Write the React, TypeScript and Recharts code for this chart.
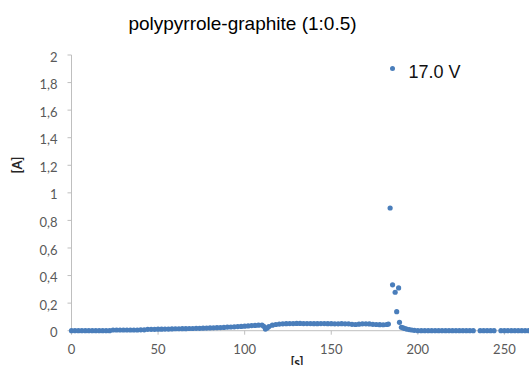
import { ScatterChart, Scatter, XAxis, YAxis, Legend } from "recharts";

// [s, A] readings, 17.0 V run
const chargingPhase: [number, number][] = [
  [0, 0], [2, 0], [4, 0], [6, 0], [8, 0], [10, 0], [12, 0], [14, 0], [16, 0], [18, 0], [20, 0], [22, 0],
  [24, 0.005], [26, 0.005], [28, 0.005], [30, 0.005], [32, 0.005], [34, 0.005], [36, 0.005], [38, 0.005], [40, 0.006], [42, 0.006],
  [44, 0.01], [46, 0.01], [48, 0.01], [50, 0.011], [52, 0.011], [54, 0.012], [56, 0.012], [58, 0.013],
  [60, 0.014], [62, 0.014], [64, 0.015], [66, 0.015], [68, 0.016], [70, 0.016], [72, 0.017], [74, 0.017], [76, 0.018], [78, 0.019],
  [80, 0.02], [82, 0.021], [84, 0.022], [86, 0.023], [88, 0.024],
  [90, 0.026], [92, 0.027], [94, 0.028], [96, 0.03], [98, 0.031], [100, 0.033],
  [102, 0.035], [104, 0.037], [106, 0.038], [108, 0.04], [110, 0.041],
  [111, 0.032], [112, 0.012], [113, 0.02], [114, 0.03],
  [116, 0.04], [118, 0.045], [120, 0.048],
  [122, 0.05], [124, 0.051], [126, 0.052], [128, 0.052], [130, 0.053], [132, 0.053], [134, 0.052], [136, 0.052],
  [138, 0.052], [140, 0.051], [142, 0.051], [144, 0.052], [146, 0.052], [148, 0.051], [150, 0.051], [152, 0.05],
  [154, 0.05], [156, 0.051], [158, 0.05], [160, 0.05],
  [162, 0.046], [164, 0.045], [166, 0.047],
  [168, 0.05], [170, 0.05], [172, 0.049],
  [174, 0.046], [176, 0.045], [178, 0.044], [180, 0.043], [182, 0.045], [183, 0.048],
];

const breakdownPhase: [number, number][] = [
  [184, 0.89], [185.4, 0.333], [186.9, 0.279], [187.8, 0.138], [188.9, 0.31], [189.4, 0.061],
];

const decayPhase: [number, number][] = [
  [190.5, 0.025], [191.5, 0.02], [192.5, 0.016], [193.5, 0.012], [195, 0.008], [196.5, 0.005], [198, 0.003],
  [200, 0], [202, 0], [204, 0], [206, 0], [208, 0], [210, 0], [212, 0], [214, 0], [216, 0], [218, 0],
  [220, 0], [222, 0], [224, 0], [226, 0], [228, 0], [230, 0], [232, 0], [236, 0], [238, 0],
  [240, 0], [242, 0], [244, 0], [248, 0], [250, 0], [252, 0], [254, 0], [256, 0], [258, 0],
  [260, 0], [262, 0], [264, 0], [266, 0], [268, 0], [270, 0], [272, 0], [274, 0], [276, 0], [278, 0],
  [280, 0], [282, 0], [284, 0], [286, 0], [288, 0], [290, 0], [292, 0], [294, 0], [296, 0], [298, 0], [300, 0],
];

const xTicks = [0, 50, 100, 150, 200, 250, 300];
const yTicks = [0, 0.2, 0.4, 0.6, 0.8, 1, 1.2, 1.4, 1.6, 1.8, 2];

const seriesName = "17.0 V";
const title = "polypyrrole-graphite (1:0.5)";

const BLUE = "#4a7ebb";
const AXIS = "#bfbfbf";
const TICK_TEXT = "#595959";

const data = [...chargingPhase, ...breakdownPhase, ...decayPhase].map(([s, a]) => ({ s, a }));

const Dot = (props: any) => <circle cx={props.cx} cy={props.cy} r={2.6} fill={BLUE} />;

const renderLegend = () => (
  <div style={{ display: "flex", alignItems: "center", fontFamily: "'Liberation Sans', Arial, sans-serif", fontSize: 18, lineHeight: "18px", color: "#111" }}>
    <span style={{ width: 5, height: 5, borderRadius: "50%", background: BLUE, position: "relative", top: -3.5 }} />
    <span style={{ marginLeft: 13.5 }}>{seriesName}</span>
  </div>
);

export default function App() {
  const tickStyle = { fontFamily: "Lato, 'Open Sans', sans-serif", fontSize: 13, fill: TICK_TEXT };
  return (
    <div style={{ position: "fixed", left: 0, top: 0, width: 529, height: 365, overflow: "hidden", background: "#fff" }}>
      <div
        style={{
          position: "absolute",
          left: 0,
          top: 14,
          width: 485,
          textAlign: "center",
          fontFamily: "'Liberation Sans', Arial, sans-serif",
          fontSize: 19,
          lineHeight: "19px",
          color: "#000",
        }}
      >
        {title}
      </div>
      <ScatterChart width={592} height={380} margin={{ top: 55, right: 1, bottom: 9.3, left: 0 }}>
        <XAxis
          type="number"
          dataKey="s"
          domain={[0, 300]}
          ticks={xTicks}
          height={40}
          tickSize={4}
          tickMargin={10}
          stroke={AXIS}
          tick={tickStyle}
          label={{
            content: () => (
              <text x={297} y={367} textAnchor="middle" fontFamily="Lato, sans-serif" fontWeight="bold" fontSize={13} fill="#262626">
                [s]
              </text>
            ),
          }}
        />
        <YAxis
          type="number"
          dataKey="a"
          domain={[0, 2]}
          ticks={yTicks}
          width={71.5}
          tickSize={4}
          tickMargin={10}
          stroke={AXIS}
          tick={{ ...tickStyle, dy: 2 }}
          tickFormatter={(v: number) => String(v).replace(".", ",")}
          label={{
            content: () => (
              <text x={22} y={165} transform="rotate(-90, 22, 165)" textAnchor="middle" fontFamily="Lato, sans-serif" fontWeight="bold" fontSize={13} fill="#262626">
                [A]
              </text>
            ),
          }}
        />
        <Legend
          layout="horizontal"
          verticalAlign="middle"
          align="center"
          content={renderLegend}
          wrapperStyle={{ top: 63.4, left: 390, width: 120 }}
        />
        <Scatter name={seriesName} data={data} fill={BLUE} shape={Dot} isAnimationActive={false} />
      </ScatterChart>
    </div>
  );
}
